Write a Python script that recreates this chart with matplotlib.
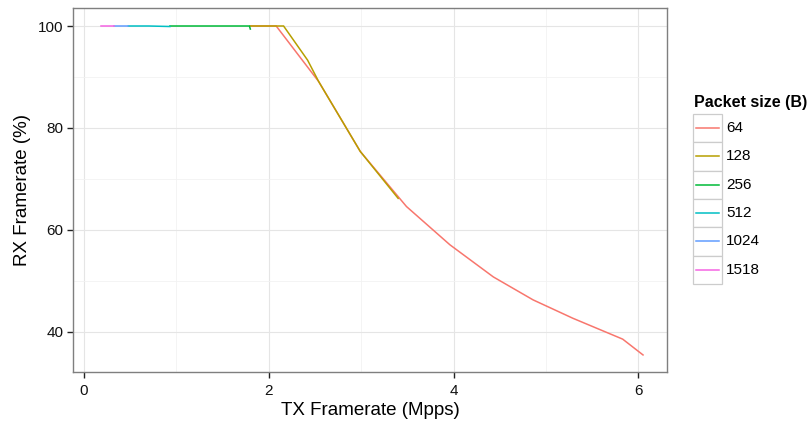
import matplotlib
matplotlib.use("Agg")
import matplotlib.pyplot as plt
from matplotlib.patches import Rectangle
from matplotlib.lines import Line2D

plt.rcParams['font.family'] = ['Liberation Sans', 'DejaVu Sans']

# Throughput measurements per packet size: TX rate (Mpps) vs RX rate (%)
packet_sizes = ["64", "128", "256", "512", "1024", "1518"]
colors = ["#F8766D", "#B79F00", "#00BA38", "#00BFC4", "#619CFF", "#F564E3"]

tx_64 = [1.80, 2.08, 2.54, 2.99, 3.49, 3.96, 4.43, 4.86, 5.29, 5.83, 6.05]
rx_64 = [100.0, 100.0, 89.1, 75.4, 64.6, 57.1, 50.8, 46.3, 42.7, 38.6, 35.5]

tx_128 = [1.80, 2.16, 2.42, 2.54, 2.99, 3.40]
rx_128 = [100.0, 100.0, 93.3, 89.1, 75.4, 66.2]

tx_256 = [0.93, 1.40, 1.79, 1.80]
rx_256 = [100.0, 100.0, 100.0, 99.4]

tx_512 = [0.48, 0.70, 0.93]
rx_512 = [100.0, 100.0, 99.9]

tx_1024 = [0.32, 0.48]
rx_1024 = [100.0, 100.0]

tx_1518 = [0.18, 0.32]
rx_1518 = [100.0, 100.0]

series = [(tx_64, rx_64), (tx_128, rx_128), (tx_256, rx_256),
          (tx_512, rx_512), (tx_1024, rx_1024), (tx_1518, rx_1518)]

fig = plt.figure(figsize=(8.09, 4.21), dpi=100)
W, H = 809, 421
left, right, top, bottom = 73, 667, 8, 372
ax = fig.add_axes([left / W, 1 - bottom / H, (right - left) / W, (bottom - top) / H])

for (tx, rx), c in zip(series, colors):
    ax.plot(tx, rx, color=c, lw=1.1, solid_joinstyle='miter')

x0_px, x_per = 84.0, 92.4
y100_px, y_per = 26.0, 5.1
ax.set_xlim((left - x0_px) / x_per, (right - x0_px) / x_per)
ax.set_ylim(100 - (bottom - y100_px) / y_per, 100 + (y100_px - top) / y_per)
ax.set_xticks([0, 2, 4, 6])
ax.set_xticks([1, 3, 5], minor=True)
ax.set_yticks([40, 60, 80, 100])
ax.set_yticks([50, 70, 90], minor=True)

ax.grid(which='major', color='#E5E5E5', lw=0.8)
ax.grid(which='minor', color='#F2F2F2', lw=0.6)
ax.set_axisbelow(True)
for s in ax.spines.values():
    s.set_color('#7F7F7F')
    s.set_linewidth(1.0)

ax.tick_params(which='major', length=4.2, width=1.0, color='#222222',
               labelsize=11, labelcolor='#111111', pad=2.5)
ax.tick_params(axis='x', which='major', pad=4.5)
ax.tick_params(which='minor', length=0)

ax.set_xlabel("TX Framerate (Mpps)", fontsize=13.5, labelpad=2.5)
ax.set_ylabel("RX Framerate (%)", fontsize=13.5, labelpad=5)

# Legend with a framed key for each packet size
fig.text(694 / W, 1 - 102 / H, "Packet size (B)", fontsize=11.5, fontweight='bold',
         va='center', ha='left')
key_top = 114
key_h = 28.3
for i, (name, c) in enumerate(zip(packet_sizes, colors)):
    y0 = key_top + i * key_h
    fig.add_artist(Rectangle((693 / W, 1 - (y0 + key_h) / H), 28.5 / W, key_h / H,
                             transform=fig.transFigure, facecolor='white',
                             edgecolor='#CCCCCC', lw=0.9))
    yc = 1 - (y0 + key_h / 2) / H
    fig.add_artist(Line2D([696 / W, 718.5 / W], [yc, yc], color=c, lw=1.1,
                          transform=fig.transFigure))
    fig.text(726 / W, yc, name, fontsize=11, va='center', ha='left')

fig.savefig("out.png", dpi=100)
